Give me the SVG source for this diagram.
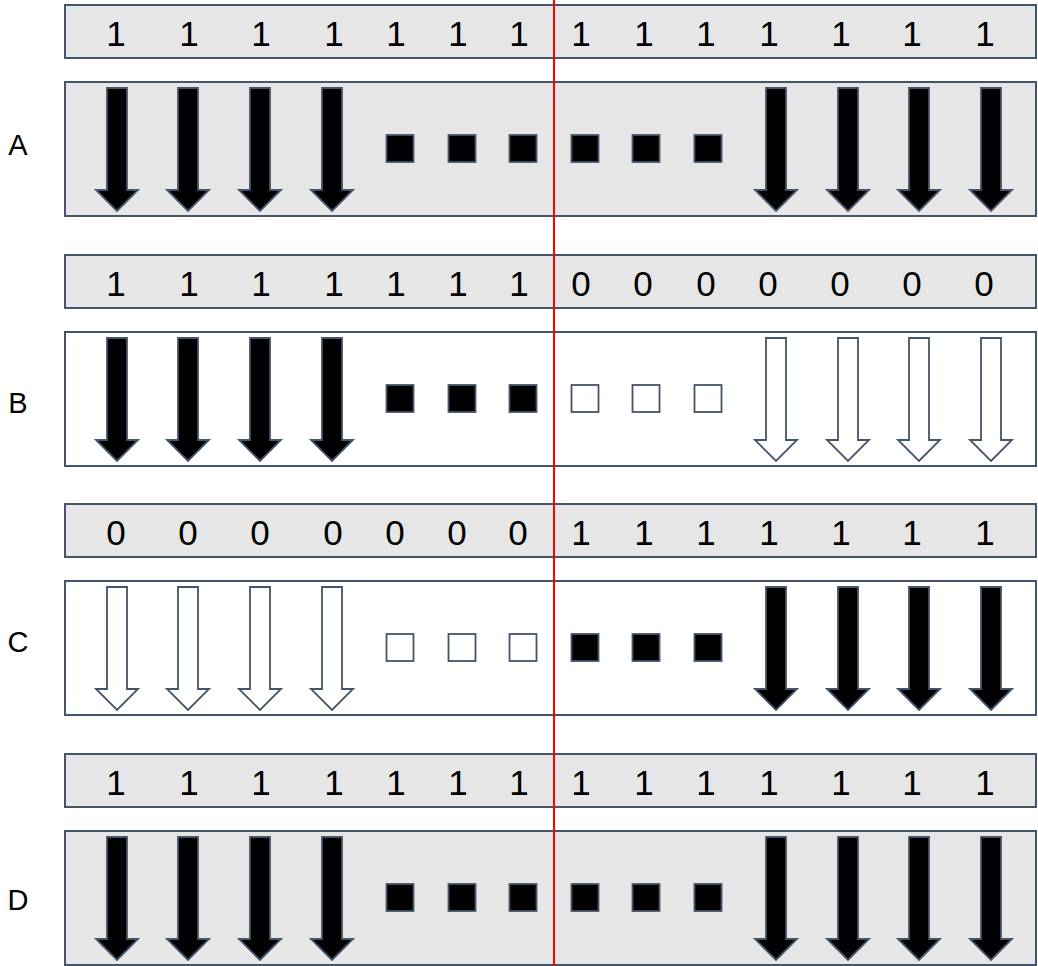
<svg xmlns="http://www.w3.org/2000/svg" xmlns:xlink="http://www.w3.org/1999/xlink" width="1038" height="966" viewBox="0 0 1038 966">
<style>
.bar{fill:#E6E6E6;stroke:#44546A;stroke-width:2}
.boxg{fill:#E6E6E6;stroke:#44546A;stroke-width:2}
.boxw{fill:#FFFFFF;stroke:#44546A;stroke-width:2}
.num{font-family:"Liberation Sans",Arial,sans-serif;font-size:35px;fill:#000;text-anchor:middle}
.lbl{font-family:"Liberation Sans",Arial,sans-serif;font-size:29px;fill:#000;text-anchor:middle}
.ab{fill:#000;stroke:#44546A;stroke-width:1.8;stroke-linejoin:miter}
.aw{fill:#FFF;stroke:#44546A;stroke-width:1.8;stroke-linejoin:miter}
</style>
<defs>
<path id="arr" d="M-10,6 H10 V108 H21 L0,129 L-21,108 H-10 Z"/>
<rect id="sq" x="-13.5" y="53" width="27" height="27"/>
</defs>

<g id="rowA">
<rect class="bar" x="65" y="5" width="971" height="53"/>
<g class="num">
<text x="116" y="46">1</text><text x="189" y="46">1</text><text x="261" y="46">1</text><text x="334" y="46">1</text><text x="396" y="46">1</text><text x="458" y="46">1</text><text x="519" y="46">1</text><text x="581" y="46">1</text><text x="644" y="46">1</text><text x="706" y="46">1</text><text x="769" y="46">1</text><text x="841" y="46">1</text><text x="912" y="46">1</text><text x="985" y="46">1</text>
</g>
<text class="lbl" x="18" y="155">A</text>
<rect class="boxg" x="65" y="82" width="971" height="134"/>
<g transform="translate(0,82)">
<use href="#arr" class="ab" x="117"/><use href="#arr" class="ab" x="188"/><use href="#arr" class="ab" x="260"/><use href="#arr" class="ab" x="332"/>
<use href="#sq" class="ab" x="400"/><use href="#sq" class="ab" x="462"/><use href="#sq" class="ab" x="523"/><use href="#sq" class="ab" x="585"/><use href="#sq" class="ab" x="646"/><use href="#sq" class="ab" x="708"/>
<use href="#arr" class="ab" x="776"/><use href="#arr" class="ab" x="848"/><use href="#arr" class="ab" x="919"/><use href="#arr" class="ab" x="991"/>
</g>
</g>

<g id="rowB">
<rect class="bar" x="65" y="255" width="971" height="53"/>
<g class="num">
<text x="116" y="296">1</text><text x="189" y="296">1</text><text x="261" y="296">1</text><text x="334" y="296">1</text><text x="396" y="296">1</text><text x="458" y="296">1</text><text x="519" y="296">1</text><text x="581" y="296">0</text><text x="643" y="296">0</text><text x="706" y="296">0</text><text x="768" y="296">0</text><text x="840" y="296">0</text><text x="912" y="296">0</text><text x="984" y="296">0</text>
</g>
<text class="lbl" x="18" y="413">B</text>
<rect class="boxw" x="65" y="332" width="971" height="134"/>
<g transform="translate(0,332)">
<use href="#arr" class="ab" x="117"/><use href="#arr" class="ab" x="188"/><use href="#arr" class="ab" x="260"/><use href="#arr" class="ab" x="332"/>
<use href="#sq" class="ab" x="400"/><use href="#sq" class="ab" x="462"/><use href="#sq" class="ab" x="523"/><use href="#sq" class="aw" x="585"/><use href="#sq" class="aw" x="646"/><use href="#sq" class="aw" x="708"/>
<use href="#arr" class="aw" x="776"/><use href="#arr" class="aw" x="848"/><use href="#arr" class="aw" x="919"/><use href="#arr" class="aw" x="991"/>
</g>
</g>

<g id="rowC">
<rect class="bar" x="65" y="504" width="971" height="53"/>
<g class="num">
<text x="116" y="545">0</text><text x="188" y="545">0</text><text x="260" y="545">0</text><text x="333" y="545">0</text><text x="395" y="545">0</text><text x="457" y="545">0</text><text x="518" y="545">0</text><text x="581" y="545">1</text><text x="644" y="545">1</text><text x="706" y="545">1</text><text x="769" y="545">1</text><text x="841" y="545">1</text><text x="912" y="545">1</text><text x="985" y="545">1</text>
</g>
<text class="lbl" x="18" y="652">C</text>
<rect class="boxw" x="65" y="581" width="971" height="134"/>
<g transform="translate(0,581)">
<use href="#arr" class="aw" x="117"/><use href="#arr" class="aw" x="188"/><use href="#arr" class="aw" x="260"/><use href="#arr" class="aw" x="332"/>
<use href="#sq" class="aw" x="400"/><use href="#sq" class="aw" x="462"/><use href="#sq" class="aw" x="523"/><use href="#sq" class="ab" x="585"/><use href="#sq" class="ab" x="646"/><use href="#sq" class="ab" x="708"/>
<use href="#arr" class="ab" x="776"/><use href="#arr" class="ab" x="848"/><use href="#arr" class="ab" x="919"/><use href="#arr" class="ab" x="991"/>
</g>
</g>

<g id="rowD">
<rect class="bar" x="65" y="754" width="971" height="53"/>
<g class="num">
<text x="116" y="795">1</text><text x="189" y="795">1</text><text x="261" y="795">1</text><text x="334" y="795">1</text><text x="396" y="795">1</text><text x="458" y="795">1</text><text x="519" y="795">1</text><text x="581" y="795">1</text><text x="644" y="795">1</text><text x="706" y="795">1</text><text x="769" y="795">1</text><text x="841" y="795">1</text><text x="912" y="795">1</text><text x="985" y="795">1</text>
</g>
<text class="lbl" x="18" y="910">D</text>
<rect class="boxg" x="65" y="831" width="971" height="134"/>
<g transform="translate(0,831)">
<use href="#arr" class="ab" x="117"/><use href="#arr" class="ab" x="188"/><use href="#arr" class="ab" x="260"/><use href="#arr" class="ab" x="332"/>
<use href="#sq" class="ab" x="400"/><use href="#sq" class="ab" x="462"/><use href="#sq" class="ab" x="523"/><use href="#sq" class="ab" x="585"/><use href="#sq" class="ab" x="646"/><use href="#sq" class="ab" x="708"/>
<use href="#arr" class="ab" x="776"/><use href="#arr" class="ab" x="848"/><use href="#arr" class="ab" x="919"/><use href="#arr" class="ab" x="991"/>
</g>
</g>

<g id="connectors">
<line x1="554" y1="0" x2="554" y2="966" stroke="#FF0000" stroke-width="2"/>
</g>
</svg>
